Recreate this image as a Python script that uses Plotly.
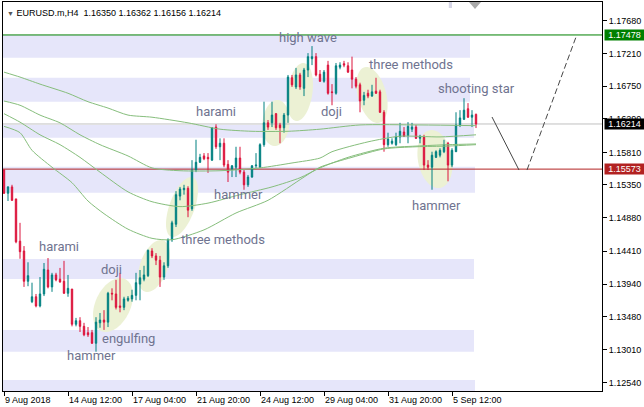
import math
import pandas as pd
import plotly.graph_objects as go

# ---------------- data ----------------
_idx = pd.date_range("2018-08-09 20:00", "2018-09-06 12:00", freq="4h")
_idx = _idx[_idx.dayofweek < 5]
times = [t.strftime("%Y-%m-%d %H:%M") for t in _idx]

opens = [1.1556, 1.1523, 1.1532, 1.1515, 1.1455, 1.1441, 1.1398, 1.1369, 1.1376, 1.1363,
         1.1380, 1.1414, 1.1390, 1.1407, 1.1401, 1.1398, 1.1381, 1.1387, 1.1337, 1.1342,
         1.1334, 1.1325, 1.1325, 1.1310, 1.1339, 1.1343, 1.1340, 1.1381, 1.1380, 1.1363,
         1.1361, 1.1371, 1.1373, 1.1378, 1.1394, 1.1401, 1.1406, 1.1441, 1.1434, 1.1428,
         1.1404, 1.1420, 1.1457, 1.1479, 1.1519, 1.1528, 1.1530, 1.1501, 1.1556, 1.1567,
         1.1576, 1.1574, 1.1570, 1.1617, 1.1589, 1.1594, 1.1564, 1.1557, 1.1560, 1.1573,
         1.1553, 1.1535, 1.1546, 1.1562, 1.1560, 1.1592, 1.1623, 1.1623, 1.1636, 1.1620,
         1.1616, 1.1634, 1.1687, 1.1674, 1.1691, 1.1672, 1.1698, 1.1714, 1.1717, 1.1692,
         1.1682, 1.1705, 1.1667, 1.1665, 1.1702, 1.1707, 1.1704, 1.1698, 1.1685, 1.1677,
         1.1655, 1.1665, 1.1661, 1.1668, 1.1667, 1.1638, 1.1592, 1.1594, 1.1592, 1.1603,
         1.1610, 1.1605, 1.1614, 1.1617, 1.1601, 1.1603, 1.1563, 1.1560, 1.1574, 1.1577,
         1.1582, 1.1594, 1.1563, 1.1582, 1.1620, 1.1628, 1.1643, 1.1631, 1.16350]
highs = [1.1557, 1.1533, 1.1535, 1.1515, 1.1481, 1.1448, 1.1425, 1.1396, 1.1380, 1.1404,
         1.1424, 1.1431, 1.1410, 1.1410, 1.1417, 1.1427, 1.1407, 1.1387, 1.1346, 1.1347,
         1.1339, 1.1333, 1.1329, 1.1347, 1.1353, 1.1357, 1.1383, 1.1388, 1.1400, 1.1410,
         1.1376, 1.1377, 1.1386, 1.1410, 1.1414, 1.1420, 1.1443, 1.1445, 1.1438, 1.1434,
         1.1425, 1.1459, 1.1484, 1.1526, 1.1532, 1.1535, 1.1533, 1.1570, 1.1599, 1.1579,
         1.1580, 1.1580, 1.1617, 1.1621, 1.1601, 1.1601, 1.1570, 1.1563, 1.1589, 1.1589,
         1.1556, 1.1549, 1.1563, 1.1580, 1.1594, 1.1653, 1.1627, 1.1653, 1.1637, 1.1623,
         1.1637, 1.1691, 1.1691, 1.1701, 1.1694, 1.1701, 1.1722, 1.1732, 1.1722, 1.1698,
         1.1698, 1.1711, 1.1678, 1.1708, 1.1709, 1.1711, 1.1709, 1.1717, 1.1688, 1.1680,
         1.1667, 1.1670, 1.1677, 1.1687, 1.1670, 1.1641, 1.1609, 1.1601, 1.1609, 1.1623,
         1.1617, 1.1624, 1.1623, 1.1620, 1.1606, 1.1606, 1.1570, 1.1582, 1.1584, 1.1587,
         1.1599, 1.1596, 1.1587, 1.1638, 1.1641, 1.1658, 1.1651, 1.1641, 1.16362]
lows = [1.1522, 1.1512, 1.1512, 1.1452, 1.1430, 1.1390, 1.1391, 1.1367, 1.1361, 1.1361,
        1.1377, 1.1388, 1.1383, 1.1398, 1.1396, 1.1380, 1.1376, 1.1334, 1.1334, 1.1326,
        1.1320, 1.1319, 1.1309, 1.1298, 1.1332, 1.1329, 1.1333, 1.1371, 1.1358, 1.1354,
        1.1357, 1.1369, 1.1369, 1.1371, 1.1371, 1.1398, 1.1404, 1.1431, 1.1421, 1.1390,
        1.1400, 1.1417, 1.1454, 1.1475, 1.1513, 1.1521, 1.1489, 1.1498, 1.1553, 1.1566,
        1.1570, 1.1552, 1.1569, 1.1586, 1.1570, 1.1560, 1.1539, 1.1546, 1.1546, 1.1550,
        1.1528, 1.1532, 1.1545, 1.1559, 1.1559, 1.1589, 1.1613, 1.1617, 1.1613, 1.1594,
        1.1609, 1.1623, 1.1674, 1.1671, 1.1670, 1.1661, 1.1688, 1.1705, 1.1689, 1.1681,
        1.1680, 1.1663, 1.1648, 1.1663, 1.1699, 1.1702, 1.1694, 1.1672, 1.1672, 1.1638,
        1.1648, 1.1658, 1.1660, 1.1664, 1.1637, 1.1582, 1.1589, 1.1592, 1.1590, 1.1594,
        1.1603, 1.1594, 1.1610, 1.1600, 1.1594, 1.1556, 1.1556, 1.1528, 1.1573, 1.1574,
        1.1580, 1.1540, 1.1560, 1.1582, 1.1617, 1.1627, 1.1630, 1.1617, 1.16156]
closes = [1.1523, 1.1532, 1.1513, 1.1454, 1.1440, 1.1398, 1.1406, 1.1376, 1.1363, 1.1380,
          1.1415, 1.1390, 1.1407, 1.1400, 1.1397, 1.1381, 1.1388, 1.1337, 1.1342, 1.1334,
          1.1322, 1.1322, 1.1310, 1.1340, 1.1343, 1.1340, 1.1381, 1.1380, 1.1361, 1.1361,
          1.1373, 1.1374, 1.1378, 1.1396, 1.1403, 1.1407, 1.1442, 1.1434, 1.1428, 1.1404,
          1.1420, 1.1457, 1.1481, 1.1521, 1.1529, 1.1530, 1.1499, 1.1556, 1.1567, 1.1574,
          1.1572, 1.1572, 1.1616, 1.1589, 1.1594, 1.1563, 1.1553, 1.1562, 1.1573, 1.1553,
          1.1535, 1.1546, 1.1562, 1.1563, 1.1592, 1.1623, 1.1617, 1.1634, 1.1616, 1.1616,
          1.1634, 1.1688, 1.1677, 1.1691, 1.1674, 1.1698, 1.1717, 1.1717, 1.1691, 1.1682,
          1.1695, 1.1665, 1.1666, 1.1704, 1.1705, 1.1705, 1.1695, 1.1685, 1.1675, 1.1654,
          1.1662, 1.1661, 1.1667, 1.1665, 1.1638, 1.1592, 1.1600, 1.1597, 1.1603, 1.1611,
          1.1604, 1.1618, 1.1617, 1.1601, 1.1604, 1.1563, 1.1560, 1.1577, 1.1582, 1.1584,
          1.1592, 1.1563, 1.1584, 1.1620, 1.1630, 1.1641, 1.1631, 1.1634, 1.16214]

# moving averages (bar index -> value)
ma1_idx = [0, 4, 9, 16, 21, 26, 31, 37, 46, 54, 62, 71, 79, 89, 104, 118]
ma1_val = [1.1695, 1.1688, 1.1678, 1.1665, 1.1653, 1.1644, 1.1634, 1.1631, 1.1623, 1.1614,
           1.1611, 1.1611, 1.1614, 1.1620, 1.1620, 1.1619]
ma2_idx = [0, 4, 9, 14, 19, 24, 31, 37, 44, 54, 64, 72, 79, 82, 91, 99, 109, 118]
ma2_val = [1.1654, 1.1648, 1.1634, 1.1623, 1.1606, 1.1592, 1.1576, 1.1559, 1.1555, 1.1555,
           1.1559, 1.1566, 1.1573, 1.1582, 1.1596, 1.1604, 1.1603, 1.1606]
ma3_idx = [0, 4, 9, 14, 19, 24, 31, 37, 44, 51, 59, 67, 74, 79, 86, 95, 103, 111, 118]
ma3_val = [1.1636, 1.1624, 1.1606, 1.1592, 1.1574, 1.1553, 1.1525, 1.1511, 1.1504, 1.1509,
           1.1521, 1.1532, 1.1545, 1.1559, 1.1574, 1.1587, 1.1590, 1.1592, 1.1593]
ma4_idx = [0, 4, 7, 12, 17, 21, 25, 31, 37, 42, 50, 58, 66, 75, 79, 87, 95, 103, 111, 118]
ma4_val = [1.1618, 1.1609, 1.1584, 1.1560, 1.1538, 1.1512, 1.1494, 1.1472, 1.1459, 1.1457,
           1.1471, 1.1495, 1.1513, 1.1546, 1.1560, 1.1574, 1.1586, 1.1589, 1.1590, 1.1592]

# horizontal levels
level_green = 1.17478
level_red = 1.15573
level_bid = 1.16214

# supply/demand zones (price bands) and the bar where they end
zone_lo = [1.17155, 1.16530, 1.16019, 1.15238, 1.14012, 1.12980, 1.12380]
zone_hi = [1.17477, 1.16871, 1.16199, 1.15607, 1.14296, 1.13288, 1.12578]
zone_end = [116.5, 116.5, 117.5, 117.75, 117.5, 117.5, 117.75]

# pattern ellipses: centre bar, centre price, half width (bars), half height (price), tilt deg
ell_bar = [27.25, 37.5, 44.5, 68.0, 74.0, 92.0, 107.75]
ell_price = [1.13643, 1.14197, 1.15035, 1.16227, 1.16668, 1.16625, 1.15716]
ell_hw = [5.0, 4.0, 4.0, 3.4, 3.25, 3.9, 4.4]
ell_hh = [0.00383, 0.00369, 0.00426, 0.00327, 0.00412, 0.00398, 0.00412]
ell_tilt = [25, 20, 20, 5, 8, -15, -10]

# pattern labels
lab_text = ["harami", "doji", "engulfing", "hammer", "three methods", "hammer", "harami",
            "high wave", "doji", "three methods", "shooting star", "hammer"]
lab_bar = [13.75, 26.75, 31.0, 21.75, 54.75, 58.5, 53.0, 76.0, 81.75, 101.75, 118.0, 108.0]
lab_price = [1.14467, 1.14154, 1.13174, 1.12933, 1.14580, 1.15219, 1.16398, 1.17449,
             1.16398, 1.17065, 1.16724, 1.15063]

# projection path (bars beyond the last one, prices)
proj_solid_bar = [122.0, 128.75]
proj_solid_price = [1.16313, 1.15560]
proj_dash_bar = [130.75, 143.0]
proj_dash_price = [1.15560, 1.17449]

# axis ticks
ytick_vals = [1.17680, 1.17210, 1.16750, 1.16290, 1.15810, 1.15350, 1.14880,
              1.14410, 1.13940, 1.13480, 1.13010, 1.12540]
xtick_bars = [0, 16, 32, 48, 64, 80, 96, 112]
xtick_text = ["9 Aug 2018", "14 Aug 12:00", "17 Aug 04:00", "21 Aug 20:00",
              "24 Aug 12:00", "29 Aug 04:00", "31 Aug 20:00", "5 Sep 12:00"]

# ---------------- style / layout ----------------
W, H = 644, 407
ML, MR, MT, MB = 3, 42, 2, 16
X_RANGE = [-0.25, 149.5]
Y_RANGE = [1.12422, 1.17946]
BULL = "rgb(0,128,128)"
BEAR = "rgb(220,20,60)"
MA_COLOR = "rgb(134,190,124)"
ZONE = "rgb(230,230,250)"
ELL = "rgb(236,241,212)"
TXT = "#6f7390"
AXFONT = dict(family="Liberation Sans, Arial, sans-serif", size=9, color="black")

plot_w = W - ML - MR
plot_h = H - MT - MB
PX_PER_BAR = plot_w / (X_RANGE[1] - X_RANGE[0])
PX_PER_PRICE = plot_h / (Y_RANGE[1] - Y_RANGE[0])


def ellipse_path(cb, cp, hwb, hhp, tilt, n=60):
    hw = hwb * PX_PER_BAR
    hh = hhp * PX_PER_PRICE
    t = math.radians(tilt)
    c2, s2 = math.cos(t) ** 2, math.sin(t) ** 2
    den = c2 - s2
    a2 = (hw * hw * c2 - hh * hh * s2) / den
    b2 = (hh * hh * c2 - hw * hw * s2) / den
    a = math.sqrt(max(a2, 4.0))
    b = math.sqrt(max(b2, 4.0))
    parts = []
    for k in range(n):
        th = 2 * math.pi * k / n
        x = a * math.cos(th)
        y = b * math.sin(th)
        xr = x * math.cos(t) + y * math.sin(t)
        yr = -x * math.sin(t) + y * math.cos(t)
        bx = cb + xr / PX_PER_BAR
        py = cp + yr / PX_PER_PRICE
        parts.append(("M" if k == 0 else "L") + f"{bx:.4f},{py:.6f}")
    return " ".join(parts) + " Z"


shapes = []
for lo, hi, end in zip(zone_lo, zone_hi, zone_end):
    shapes.append(dict(type="rect", xref="x", yref="y", x0=X_RANGE[0], x1=end, y0=lo, y1=hi,
                       fillcolor=ZONE, line=dict(width=0), layer="below"))
for cb, cp, hw, hh, tl in zip(ell_bar, ell_price, ell_hw, ell_hh, ell_tilt):
    shapes.append(dict(type="path", xref="x", yref="y", path=ellipse_path(cb, cp, hw, hh, tl),
                       fillcolor=ELL, line=dict(width=0), layer="below"))
for lvl, col in [(level_bid, "rgb(192,192,192)"), (level_green, "rgb(0,128,0)"),
                 (level_red, "rgb(178,34,34)")]:
    shapes.append(dict(type="line", xref="x", yref="y", x0=X_RANGE[0], x1=X_RANGE[1],
                       y0=lvl, y1=lvl, line=dict(color=col, width=1), layer="below"))
shapes.append(dict(type="line", xref="x", yref="y", x0=proj_solid_bar[0], x1=proj_solid_bar[1],
                   y0=proj_solid_price[0], y1=proj_solid_price[1],
                   line=dict(color="rgb(70,70,70)", width=1)))
shapes.append(dict(type="line", xref="x", yref="y", x0=proj_dash_bar[0], x1=proj_dash_bar[1],
                   y0=proj_dash_price[0], y1=proj_dash_price[1],
                   line=dict(color="rgb(70,70,70)", width=1, dash="6px,3px")))
# chart-shift marker and small object marker at the top
shapes.append(dict(type="path", xref="x", yref="paper",
                   path=f"M {len(times)-2.75},1 L {len(times)+0.25},1 L {len(times)-1.25},{1-7/plot_h} Z",
                   fillcolor="rgb(170,170,170)", line=dict(width=0)))
shapes.append(dict(type="rect", xref="x", yref="paper", x0=111.2, x1=112.0,
                   y0=1 - 6 / plot_h, y1=1, fillcolor="rgb(214,214,230)", line=dict(width=0)))

fig = go.Figure()
fig.add_trace(go.Candlestick(
    x=times, open=opens, high=highs, low=lows, close=closes,
    increasing=dict(line=dict(color=BULL, width=1), fillcolor=BULL),
    decreasing=dict(line=dict(color=BEAR, width=1), fillcolor=BEAR),
    whiskerwidth=0, showlegend=False, hoverinfo="skip"))
for mi, mv in [(ma1_idx, ma1_val), (ma2_idx, ma2_val), (ma3_idx, ma3_val), (ma4_idx, ma4_val)]:
    fig.add_trace(go.Scatter(x=[times[i] for i in mi], y=mv, mode="lines",
                             line=dict(color=MA_COLOR, width=1, shape="spline", smoothing=0.7),
                             showlegend=False, hoverinfo="skip"))

annotations = []
for t, b, p in zip(lab_text, lab_bar, lab_price):
    annotations.append(dict(x=b, y=p, xref="x", yref="y", text=t, showarrow=False,
                            xanchor="center", yanchor="middle",
                            font=dict(family="Roboto, sans-serif", size=13, color=TXT)))
for lvl, bg in [(level_green, "rgb(0,128,0)"), (level_bid, "black"), (level_red, "rgb(178,34,34)")]:
    annotations.append(dict(x=1, y=lvl, xref="paper", yref="y", text=f"{lvl:.5f}",
                            showarrow=False, xanchor="left", yanchor="middle", xshift=2,
                            width=39, height=10, borderpad=0, bgcolor=bg, align="center",
                            font=dict(family="Liberation Sans, Arial, sans-serif", size=9,
                                      color="white")))
annotations.append(dict(x=0, y=1, xref="paper", yref="paper", xanchor="left", yanchor="top",
                        xshift=2, yshift=-4, showarrow=False,
                        text="<span style='color:#555;font-size:7px'>▼</span> EURUSD.m,H4\u00a0\u00a0"
                             f"{opens[-1]:.5f} {highs[-1]:.5f} {lows[-1]:.5f} {closes[-1]:.5f}",
                        font=dict(family="Liberation Sans, Arial, sans-serif", size=9,
                                  color="black")))

fig.update_layout(
    width=W, height=H, margin=dict(l=ML, r=MR, t=MT, b=MB, autoexpand=False),
    paper_bgcolor="white", plot_bgcolor="white",
    showlegend=False, boxgap=0.5,
    shapes=shapes, annotations=annotations,
    xaxis=dict(type="category", categoryorder="array", categoryarray=times,
               range=X_RANGE, showgrid=False, zeroline=False,
               rangeslider=dict(visible=False),
               showline=True, linecolor="black", linewidth=1, mirror=True,
               ticks="outside", ticklen=4, tickcolor="black",
               tickvals=[times[i] for i in xtick_bars], ticktext=xtick_text,
               ticklabelposition="outside right", tickfont=AXFONT),
    yaxis=dict(side="right", range=Y_RANGE, showgrid=False, zeroline=False,
               showline=True, linecolor="black", linewidth=1, mirror=True,
               ticks="outside", ticklen=4, tickcolor="black",
               tickvals=ytick_vals, ticktext=[f"{v:.5f}" for v in ytick_vals],
               tickfont=AXFONT),
)

fig.write_html("out.html", config={"displayModeBar": False},
               post_script="document.body.style.margin='0px';"
                           "document.body.style.overflow='hidden';")
